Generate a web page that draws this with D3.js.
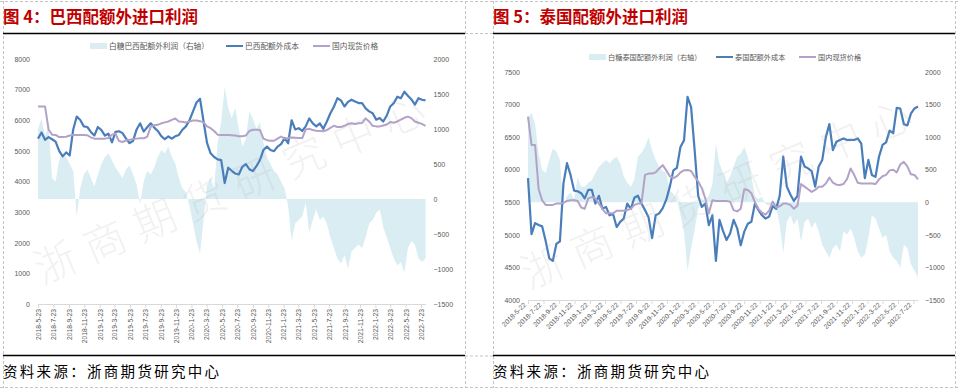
<!DOCTYPE html>
<html>
<head>
<meta charset="utf-8">
<script src="https://cdn.jsdelivr.net/npm/d3@7"></script>
<style>
  body { margin: 0; background: #fff; }
  svg { display: block; font-family: "Noto Sans CJK SC", "Noto Sans", sans-serif; }
</style>
</head>
<body>
<svg id="chart" width="959" height="390"></svg>
<script>
// ---- data, sampled every 14 days from the first date ----
const brStart = '2018-05-23';
const brTicks = ['2018-5-23','2018-7-23','2018-9-23','2018-11-23','2019-1-23','2019-3-23','2019-5-23',
  '2019-7-23','2019-9-23','2019-11-23','2020-1-23','2020-3-23','2020-5-23','2020-7-23','2020-9-23',
  '2020-11-23','2021-1-23','2021-3-23','2021-5-23','2021-7-23','2021-9-23','2021-11-23','2022-1-23',
  '2022-3-23','2022-5-23','2022-7-23'];
// 巴西配额外成本
const brCost = [5400,5600,5360,5450,5380,5300,5000,4820,4950,4850,
  5700,6120,6010,5800,5780,5620,5500,5780,5680,5500,
  5560,5280,5620,5640,5580,5400,5250,5330,5700,5900,
  5630,5770,5900,5760,5650,5480,5380,5470,5400,5480,
  5520,5690,5800,6000,6290,6580,6700,5960,5250,4920,
  4800,4720,4700,3950,4450,4350,4260,4230,4480,4570,
  4400,4340,4500,4700,5030,5140,5030,4990,5140,5220,
  5420,5250,6000,5700,5740,5650,5800,6060,5900,5800,
  5900,5720,5960,6230,6440,6720,6650,6450,6600,6670,
  6610,6560,6560,6390,6290,6230,6020,6070,5960,6150,
  6450,6560,6770,6720,6930,6800,6680,6510,6720,6670,6650];
// 国内现货价格
const brSpot = [6450,6450,6450,5700,5530,5520,5450,5450,5460,5500,
  5520,5520,5520,5520,5510,5440,5400,5400,5400,5400,
  5420,5530,5560,5320,5290,5340,5360,5390,5400,5410,
  5410,5460,5790,5840,5850,5900,5930,5960,6010,6060,
  5960,5950,5930,5960,5990,5990,5970,5930,5800,5740,
  5650,5530,5520,5520,5520,5510,5500,5480,5480,5500,
  5650,5690,5690,5680,5400,5350,5330,5330,5400,5470,
  5400,5420,5440,5430,5420,5420,5700,5720,5680,5660,
  5650,5640,5680,5750,5820,5780,5780,5820,5880,5900,
  5880,5900,5910,6060,5960,5820,5800,5800,5830,5860,
  5940,5920,5960,6020,6080,6120,6070,5960,5920,5880,5820];
// 白糖巴西配额外利润（右轴）
const brProfit = [1000,1150,900,1050,300,250,550,650,600,500,
  400,-250,150,350,420,300,180,350,500,600,
  650,550,450,380,300,420,480,350,200,-80,
  250,400,350,450,600,700,650,750,600,500,
  300,150,100,-100,-350,-600,-780,-300,200,300,
  150,800,1100,1600,1300,1150,1300,1000,750,850,
  1250,1150,1000,1100,800,600,500,400,350,250,
  150,-100,-590,-350,-300,-250,-50,-480,-300,-150,
  -300,-250,-350,-550,-700,-850,-920,-800,-1000,-750,
  -700,-650,-700,-550,-350,-300,-200,-150,-400,-550,
  -700,-850,-950,-900,-1050,-700,-600,-650,-850,-900,-850];

const thStart = '2018-05-22';
const thTicks = ['2018-5-22','2018-7-22','2018-9-22','2018-11-22','2019-1-22','2019-3-22','2019-5-22',
  '2019-7-22','2019-9-22','2019-11-22','2020-1-22','2020-3-22','2020-5-22','2020-7-22','2020-9-22',
  '2020-11-22','2021-1-22','2021-3-22','2021-5-22','2021-7-22','2021-9-22','2021-11-22','2022-1-22',
  '2022-3-22','2022-5-22','2022-7-22'];
// 泰国配额外成本
const thCost = [5870,5010,5180,5150,5130,4900,4640,4600,4860,4900,
  5790,6100,5920,5680,5670,5640,5560,5690,5690,5480,
  5600,5400,5430,5300,5320,5120,5200,5250,5480,5400,
  5570,5600,5480,5380,5270,4950,5300,5330,5410,5540,
  5740,5990,6030,6350,6450,7120,6960,6300,5600,5430,
  5480,5150,5300,4600,5230,5060,4920,5020,5230,5100,
  4840,5050,5170,5200,5480,5380,5300,5250,5280,5440,
  5400,5600,6200,5740,5620,5520,5600,6200,6050,6020,
  5980,5740,6050,6150,6500,6700,6300,6430,6456,6480,
  6456,6460,6456,6480,6400,5870,6150,5920,5890,6200,
  6380,6420,6600,6560,6950,6940,6700,6680,6860,6940,6970];
// 国内现货价格
const thSpot = [6814,6380,6380,5700,5530,5460,5460,5460,5480,5480,
  5490,5520,5530,5530,5520,5420,5400,5560,5580,5560,
  5480,5400,5330,5330,5330,5370,5370,5370,5380,5400,
  5460,5480,5480,5920,5940,5940,5960,6020,6070,5990,
  5900,5870,5900,5960,5990,5996,5980,5893,5820,5720,
  5560,5330,5530,5520,5520,5520,5520,5510,5380,5360,
  5400,5700,5690,5640,5500,5400,5340,5310,5370,5510,
  5420,5440,5480,5480,5460,5400,5450,5780,5740,5700,
  5660,5690,5740,5740,5790,5880,5800,5770,5765,5780,
  5860,6020,5920,5800,5790,5790,5790,5790,5780,5850,
  5900,5920,5990,6000,5960,6080,6120,6050,5930,5920,5850];
// 白糖泰国配额外利润（右轴）
const thProfit = [1300,1370,1200,750,500,450,650,820,780,650,
  -60,100,150,50,380,240,240,300,340,450,
  540,600,650,600,660,700,600,400,300,240,
  350,700,760,850,1000,800,650,550,480,450,
  180,130,50,-200,-450,-1050,-700,-420,-100,30,
  40,100,280,900,600,450,300,400,550,700,
  750,850,700,400,100,50,80,-30,-50,-20,
  -80,-350,-780,-300,-200,-350,-250,-600,-300,-250,
  -400,-300,-450,-650,-750,-850,-700,-650,-750,-450,
  -500,-400,-550,-750,-850,-800,-550,-200,-250,-400,
  -550,-500,-750,-850,-900,-1000,-650,-700,-950,-1050,-1150];

const brLeftTicks = [0,1000,2000,3000,4000,5000,6000,7000,8000];
const thLeftTicks = [4000,4500,5000,5500,6000,6500,7000,7500];
const rightTicks = [-1500,-1000,-500,0,500,1000,1500,2000];

const COLORS = { cost: '#4a7ebb', spot: '#b3a2c7', profit: '#d9edf3', text: '#595959', axis: '#d9d9d9' };
const parse = d3.timeParse('%Y-%m-%d');
const fmt = d3.format('d');
const svg = d3.select('#chart');

// dashed page frame
const frame = svg.append('g').attr('fill', 'none').attr('stroke', '#c4c4c4')
  .attr('stroke-width', 1).attr('stroke-dasharray', '3,2');
frame.append('path').attr('d', 'M0,1.5H958 M0,387.5H958 M3.5,1V388 M465.5,1V388 M493.5,1V388 M955.5,1V388 M465,33.5H493 M465,356H493');

function drawPanel(p) {
  const g = svg.append('g');
  const t0 = parse(p.start);
  const toRows = arr => arr.map((v, i) => ({ date: d3.timeDay.offset(t0, i * 14), v }));
  const cost = toRows(p.cost), spot = toRows(p.spot), profit = toRows(p.profit);

  const x = d3.scaleTime().domain([t0, cost[cost.length - 1].date]).range([p.x0, p.x1]);
  const yL = d3.scaleLinear().domain(p.leftDomain).range([p.yBot, p.yTop]);
  const yR = d3.scaleLinear().domain([-1500, 2000]).range([p.yBot, p.yTop]);

  // title + rules
  g.append('text').attr('x', p.left).attr('y', 23).attr('fill', '#c00000')
    .attr('font-size', 16.5).attr('font-weight', 'bold').text(p.title);
  g.append('path').attr('d', `M${p.left},33.5H${p.right}`).attr('stroke', '#000').attr('stroke-width', 1.3);
  g.append('path').attr('d', `M${p.left},355.5H${p.right}`).attr('stroke', '#000').attr('stroke-width', 1.6);
  g.append('text').attr('x', p.left).attr('y', 377).attr('font-size', 14.5)
    .attr('letter-spacing', 2.3).attr('fill', '#000').text('资料来源：浙商期货研究中心');

  // profit area (right axis)
  g.append('path').datum(profit)
    .attr('fill', COLORS.profit)
    .attr('d', d3.area().x(d => x(d.date)).y0(yR(0)).y1(d => yR(d.v)));

  // lines
  g.append('path').datum(cost).attr('fill', 'none').attr('stroke', COLORS.cost)
    .attr('stroke-width', 2.2).attr('stroke-linejoin', 'round')
    .attr('d', d3.line().x(d => x(d.date)).y(d => yL(d.v)));
  g.append('path').datum(spot).attr('fill', 'none').attr('stroke', COLORS.spot)
    .attr('stroke-width', 2).attr('stroke-linejoin', 'round')
    .attr('d', d3.line().x(d => x(d.date)).y(d => yL(d.v)));

  // x axis
  const xAxis = g.append('g').attr('transform', `translate(0,${p.yBot})`)
    .call(d3.axisBottom(x).tickValues(p.ticks.map(parse))
      .tickFormat((d, i) => p.ticks[i]).tickSize(4).tickSizeOuter(0));
  xAxis.select('.domain').attr('stroke', COLORS.axis);
  xAxis.selectAll('.tick line').attr('stroke', COLORS.axis);
  xAxis.selectAll('.tick text')
    .attr('font-size', 6.8).attr('fill', COLORS.text)
    .attr('text-anchor', 'end').attr('x', -5).attr('y', 0).attr('dy', '0.35em')
    .attr('transform', `rotate(${p.tickAngle})`);

  // y axes
  const yAxisL = g.append('g').attr('transform', `translate(${p.x0},0)`)
    .call(d3.axisLeft(yL).tickValues(p.leftTicks).tickFormat(fmt).tickSize(0).tickPadding(p.padL));
  const yAxisR = g.append('g').attr('transform', `translate(${p.x1},0)`)
    .call(d3.axisRight(yR).tickValues(rightTicks).tickFormat(fmt).tickSize(0).tickPadding(p.padR));
  [yAxisL, yAxisR].forEach(a => {
    a.select('.domain').remove();
    a.selectAll('text').attr('font-size', 7).attr('fill', COLORS.text);
  });

  // legend
  const lg = g.append('g').attr('font-size', p.legendFont).attr('fill', COLORS.text);
  const ly = p.legendY;
  lg.append('rect').attr('x', p.legendX[0]).attr('y', ly - 3).attr('width', 17).attr('height', 6)
    .attr('fill', COLORS.profit);
  lg.append('text').attr('x', p.legendX[0] + 19).attr('y', ly).attr('dy', '0.35em').text(p.legendNames[0]);
  lg.append('path').attr('d', `M${p.legendX[1]},${ly}h17`).attr('stroke', COLORS.cost).attr('stroke-width', 2);
  lg.append('text').attr('x', p.legendX[1] + 19).attr('y', ly).attr('dy', '0.35em').text(p.legendNames[1]);
  lg.append('path').attr('d', `M${p.legendX[2]},${ly}h17`).attr('stroke', COLORS.spot).attr('stroke-width', 2);
  lg.append('text').attr('x', p.legendX[2] + 19).attr('y', ly).attr('dy', '0.35em').text(p.legendNames[2]);

  // watermark
  g.append('text').attr('transform', `translate(${p.wm[0]},${p.wm[1]}) rotate(${p.wm[2]})`)
    .attr('text-anchor', 'middle').attr('dy', '0.35em')
    .attr('font-size', 42).attr('letter-spacing', 12).attr('font-weight', 300)
    .attr('fill', '#a8a8a8').attr('fill-opacity', 0.16)
    .text('浙商期货研究中心');
}

drawPanel({
  left: 3, right: 465, title: '图 4：巴西配额外进口利润',
  start: brStart, ticks: brTicks, cost: brCost, spot: brSpot, profit: brProfit,
  x0: 38, x1: 425.5, yTop: 59, yBot: 304,
  leftDomain: [0, 8000], leftTicks: brLeftTicks, padL: 8, padR: 8, tickAngle: -90,
  legendY: 46, legendX: [90, 226, 313], legendFont: 7.7,
  legendNames: ['白糖巴西配额外利润（右轴）', '巴西配额外成本', '国内现货价格'],
  wm: [235, 187, -23]
});

drawPanel({
  left: 493, right: 955, title: '图 5：泰国配额外进口利润',
  start: thStart, ticks: thTicks, cost: thCost, spot: thSpot, profit: thProfit,
  x0: 528, x1: 918, yTop: 72, yBot: 300,
  leftDomain: [4000, 7500], leftTicks: thLeftTicks, padL: 8, padR: 7, tickAngle: -45,
  legendY: 57, legendX: [589, 716, 799], legendFont: 7.2,
  legendNames: ['白糖泰国配额外利润（右轴）', '泰国配额外成本', '国内现货价格'],
  wm: [722, 192, -23]
});
</script>
</body>
</html>
